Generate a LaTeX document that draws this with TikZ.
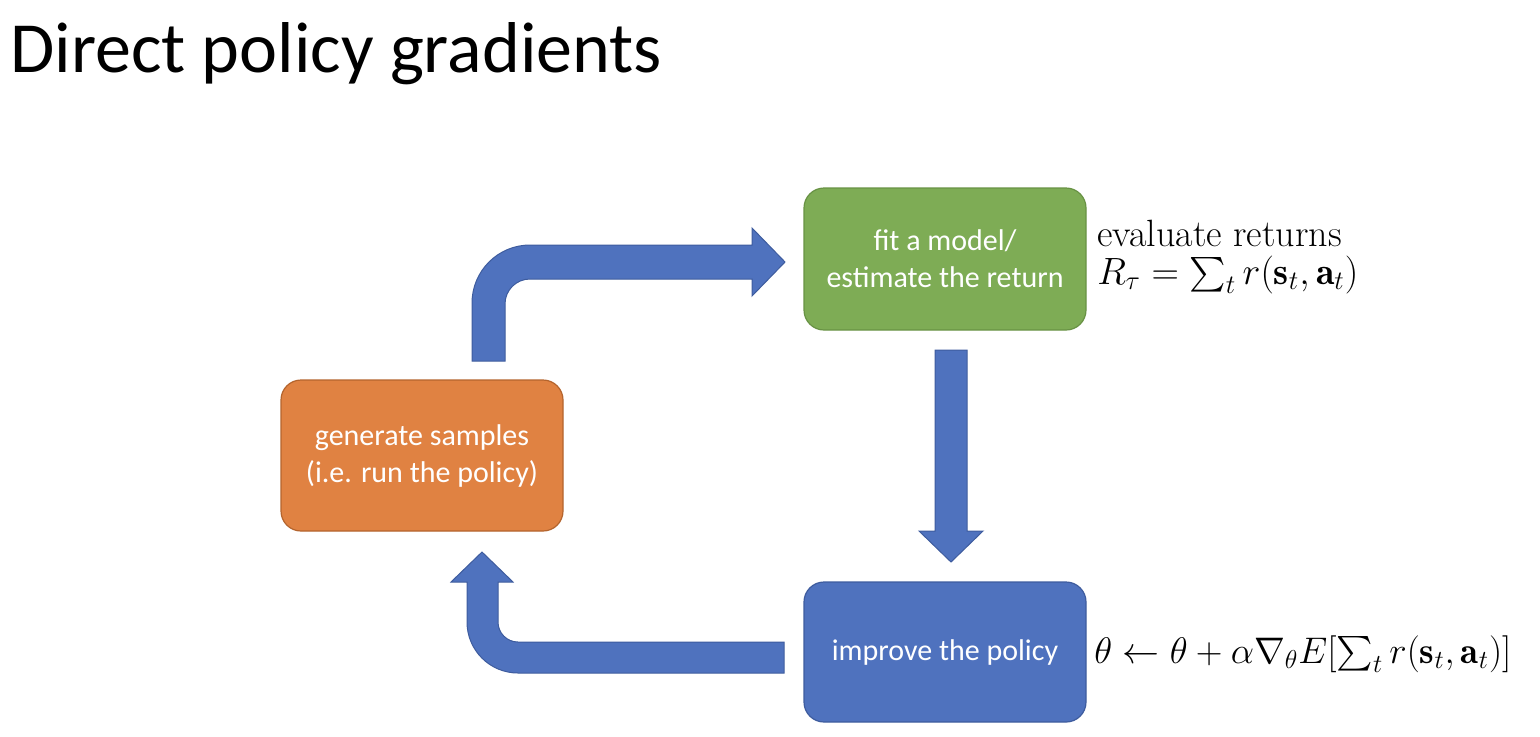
\RequirePackage{fix-cm}
\documentclass[tikz,border=0pt]{standalone}
\usepackage{fontspec}
\usepackage{amsmath}
\newfontfamily\calfont{Carlito}
\definecolor{fitgreen}{RGB}{126,172,85}
\definecolor{fitedge}{RGB}{104,146,68}
\definecolor{genorange}{RGB}{224,130,66}
\definecolor{genedge}{RGB}{180,100,45}
\definecolor{impblue}{RGB}{79,114,190}
\definecolor{impedge}{RGB}{62,92,158}
\newcommand{\mathsz}{\fontsize{19}{19}\selectfont}
\begin{document}
\begin{tikzpicture}[x=0.5pt,y=-0.5pt,
  stage/.style={rounded corners=10pt, draw, line width=0.6pt,
    minimum width=141pt, text=white, inner sep=0pt, align=center,
    font=\calfont\fontsize{15}{18.5}\selectfont},
  blockarrow/.style={fill=impblue, draw=impedge, line width=0.5pt, line join=miter},
  mathnote/.style={anchor=base west, inner sep=0pt, align=left,
    font=\fontsize{19}{19}\selectfont},
  title/.style={anchor=base west, inner sep=0pt, font=\calfont\fontsize{36}{40}\selectfont}]
  \useasboundingbox (0,0) rectangle (1540,736);

  % title
  \node[title] (heading) at (10,72) {Direct policy gradients};

  % the three stages of the loop
  \node[stage, fill=fitgreen, draw=fitedge, minimum height=71pt] (fit) at (945,259)
    {fit a model/\\estimate the return};
  \node[stage, fill=genorange, draw=genedge, minimum height=75.5pt] (gen) at (422,455.5)
    {generate samples\\(i.e. run the policy)};
  \node[stage, fill=impblue, draw=impedge, minimum height=70pt] (imp) at (945,652)
    {improve the policy};

  % annotations (node base = baseline of the last line)
  \node[mathnote] (evaltxt) at (1097,284)
    {evaluate returns\\{\mathsz$R_\tau = \sum_t r(\mathbf{s}_t,\mathbf{a}_t)$}};
  \node[mathnote, font=\fontsize{18.5}{21}\selectfont] (updtxt) at (1094,663)
    {$\theta \leftarrow \theta + \alpha\nabla_\theta E[\sum_t r(\mathbf{s}_t,\mathbf{a}_t)]$};

  % block arrows: samples -> fit
  \draw[blockarrow] (472,361) -- (472,303) arc[start angle=180,end angle=270,radius=58]
    -- (752,245) -- (752,228) -- (785,262) -- (752,296) -- (752,279) -- (530,279)
    arc[start angle=270,end angle=180,radius=25] -- (505,361) -- cycle;
  % fit -> improve
  \draw[blockarrow] (935,350) -- (935,531) -- (919,531) -- (951,562) -- (983,531)
    -- (967,531) -- (967,350) -- cycle;
  % improve -> samples
  \draw[blockarrow] (784,642) -- (518,642) arc[start angle=90,end angle=180,radius=20]
    -- (498,582) -- (513,582) -- (482,552) -- (451,582) -- (467,582) -- (467,622)
    arc[start angle=180,end angle=90,radius=51] -- (784,673) -- cycle;
\end{tikzpicture}
\end{document}
